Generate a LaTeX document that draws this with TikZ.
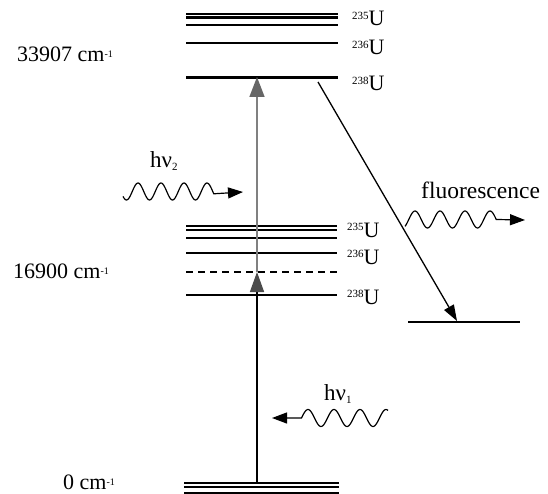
\documentclass[tikz,border=0pt]{standalone}
\usepackage{fontspec}
\setmainfont{Liberation Serif}
\usetikzlibrary{arrows.meta}
\newcommand\isolab[1]{{\fontsize{11}{11}\selectfont\raisebox{6.5pt}{#1}}U}
\newcommand\wnum{cm{\fontsize{10}{10}\selectfont\raisebox{4pt}{-1}}}
\begin{document}
\begin{tikzpicture}[x=1pt,y=-1pt,
  level/.style={line width=2.2pt},
  txt/.style={anchor=base west, inner sep=0pt, font=\fontsize{22}{22}\selectfont},
  wave/.style={line width=1.2pt, -{Triangle[length=15pt,width=11pt]}},
  pump/.style={line width=1.5pt},
]
\useasboundingbox (0,0) rectangle (548,494);
\fill[white] (0,0) rectangle (548,494);

% upper levels (33907 cm-1)
\draw[level] (186,14) -- (338,14);
\draw[level] (186,17.6) -- (338,17.6);
\draw[level] (186,25) -- (338,25);
\draw[level] (186,43) -- (338,43);
\draw[level] (186,77.5) -- (338,77.5);
% intermediate levels (16900 cm-1)
\draw[level] (186,226) -- (337,226);
\draw[level] (186,230) -- (337,230);
\draw[level] (186,238) -- (337,238);
\draw[level] (186,253) -- (337,253);
\draw[line width=1.5pt, dash pattern=on 7pt off 5pt] (186,272) -- (337,272);
\draw[level] (186,295) -- (337,295);
% ground levels
\draw[level] (184,483) -- (339,483);
\draw[level] (184,487) -- (339,487);
\draw[level] (184,493) -- (339,493);
% lower level for fluorescence
\draw[level] (408,322) -- (520,322);

% connector end points
\coordinate (ground) at (257,483);
\coordinate (virt) at (257,272);
\coordinate (excited) at (257,77);
\coordinate (fstart) at (318,82);
\coordinate (fend) at (457,321);

% excitation arrows
\draw[pump, black, -{Triangle[length=20pt,width=14pt,color=black!70]}] (ground) -- (virt);
\draw[pump, black!50, -{Triangle[length=20pt,width=15pt,color=black!60]}] (virt) -- (excited);
% fluorescence decay
\draw[line width=1.3pt, -{Triangle[length=16pt,width=11pt]}] (fstart) -- (fend);

% isotope labels
\node[txt] (u235a) at (352,26) {\isolab{235}};
\node[txt] (u236a) at (352,55) {\isolab{236}};
\node[txt] (u238a) at (352,91) {\isolab{238}};
\node[txt] (u235b) at (347,237) {\isolab{235}};
\node[txt] (u236b) at (347,264) {\isolab{236}};
\node[txt] (u238b) at (347,304) {\isolab{238}};

% energy labels
\node[txt] (e2) at (17,62) {33907 \wnum};
\node[txt] (e1) at (13,278) {16900 \wnum};
\node[txt] (e0) at (63,489) {0 \wnum};

% photon labels
\node[txt, font=\fontsize{23}{23}\selectfont] (hv2) at (150,168) {hν{\fontsize{11}{11}\selectfont\raisebox{-3pt}{2}}};
\node[txt, font=\fontsize{23}{23}\selectfont] (hv1) at (324,400) {hν{\fontsize{11}{11}\selectfont\raisebox{-3pt}{1}}};
\node[txt, font=\fontsize{23.5}{23.5}\selectfont] (fl) at (421,199) {fluorescence};

% photon waves
\coordinate (w2tip) at (243,192);
\coordinate (w1tip) at (272,418);
\coordinate (wftip) at (525,220);
\draw[wave] plot[domain=123:213.75,samples=90,smooth] (\x,{191.5-8.5*cos((\x-138)*15.6522)}) -- (w2tip);
\draw[wave] plot[domain=0:86.5,samples=90,smooth] (388-\x,{418-8.5*cos((80-\x)*13.8462)}) -- (w1tip);
\draw[wave] plot[domain=405:496.25,samples=90,smooth] (\x,{219.5-8.5*cos((\x-415)*14.4)}) -- (wftip);
\end{tikzpicture}
\end{document}
